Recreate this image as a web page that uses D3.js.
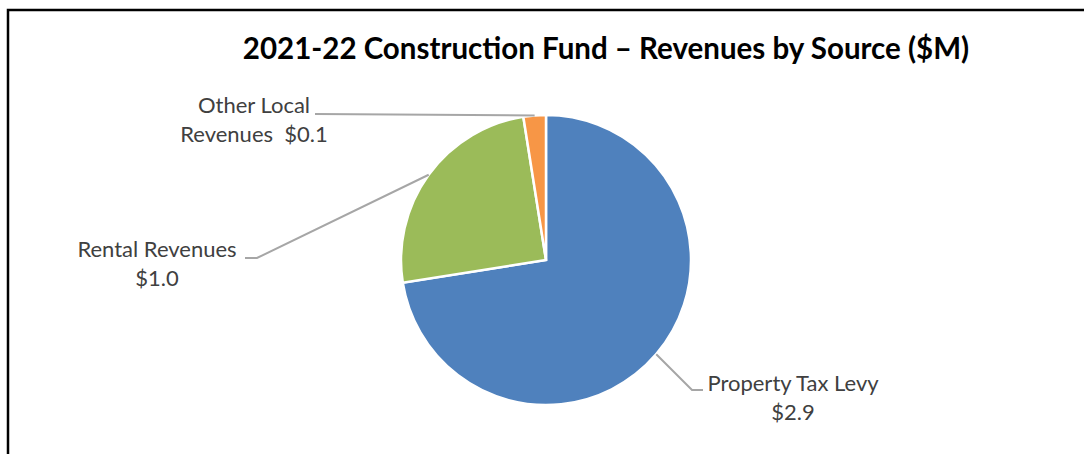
<!DOCTYPE html>
<html>
<head>
<meta charset="utf-8">
<script src="https://cdn.jsdelivr.net/npm/d3@7"></script>
<style>
  body { margin: 0; background: #fff; }
  svg { display: block; }
</style>
</head>
<body>
<div id="chart"></div>
<script>
// data
const sources = ["Property Tax Levy", "Rental Revenues", "Other Local Revenues"];
const amounts = [2.9, 1.0, 0.1];
const labelLines = [["Property Tax Levy", "$2.9"], ["Rental Revenues", "$1.0"], ["Other Local", "Revenues  $0.1"]];
const colors = ["#4F81BD", "#9BBB59", "#F79646"];

const width = 1084, height = 454;
const cx = 546, cy = 260, radius = 145;

// where each data label sits (centre x, first baseline) and where its leader bends
const labelLayout = [
    { x: 793, y: 391, elbow: [692, 390], end: [703, 390] },
    { x: 157, y: 257, elbow: [257, 258], end: [245, 258] },
    { x: 254, y: 113, elbow: [315, 114], end: [315, 114] }
];

const svg = d3.select("#chart")
    .append("svg")
    .attr("width", width)
    .attr("height", height);

// heading text above the frame, cropped by the picture edge
svg.append("text")
    .attr("x", 583)
    .attr("y", -4)
    .style("font-family", "Lato, sans-serif")
    .style("font-size", "20px")
    .style("fill", "#2E74B5")
    .text("y");

// frame
svg.append("path")
    .attr("d", `M8,${height} L8,10 L${width},10`)
    .attr("fill", "none")
    .attr("stroke", "#000")
    .attr("stroke-width", 2.5);

// title
svg.append("text")
    .attr("x", 606)
    .attr("y", 59)
    .attr("text-anchor", "middle")
    .style("font-family", "Lato, sans-serif")
    .style("font-weight", "bold")
    .style("font-size", "29.5px")
    .style("fill", "#000")
    .text("2021-22 Construction Fund \u2013 Revenues by Source ($M)");

const data = sources.map((s, i) => ({ source: s, value: amounts[i], i: i }));

const pie = d3.pie().sort(null).value(d => d.value);
const arc = d3.arc().innerRadius(0).outerRadius(radius);
const arcs = pie(data);

const g = svg.append("g").attr("transform", `translate(${cx},${cy})`);

g.selectAll("path")
    .data(arcs)
    .join("path")
    .attr("d", arc)
    .attr("fill", d => colors[d.data.i])
    .attr("stroke", "#fff")
    .attr("stroke-width", 2.5)
    .attr("stroke-linejoin", "miter");

// leader lines from the slice edge at its mid-angle
svg.append("g")
    .selectAll("polyline")
    .data(arcs)
    .join("polyline")
    .attr("points", d => {
        const a = (d.startAngle + d.endAngle) / 2;
        const p0 = [cx + radius * Math.sin(a), cy - radius * Math.cos(a)];
        const lay = labelLayout[d.data.i];
        return [p0, lay.elbow, lay.end].map(p => p.join(",")).join(" ");
    })
    .attr("fill", "none")
    .attr("stroke", "#A6A6A6")
    .attr("stroke-width", 2);

// data labels
const labels = svg.append("g")
    .selectAll("text")
    .data(arcs)
    .join("text")
    .attr("text-anchor", "middle")
    .style("font-family", "Lato, sans-serif")
    .style("font-size", "22px")
    .style("fill", "#404040")
    .style("white-space", "pre");

labels.selectAll("tspan")
    .data(d => labelLines[d.data.i].map((t, k) => ({ t: t, k: k, lay: labelLayout[d.data.i] })))
    .join("tspan")
    .attr("x", d => d.lay.x)
    .attr("y", d => d.lay.y + d.k * 29)
    .text(d => d.t);
</script>
</body>
</html>
